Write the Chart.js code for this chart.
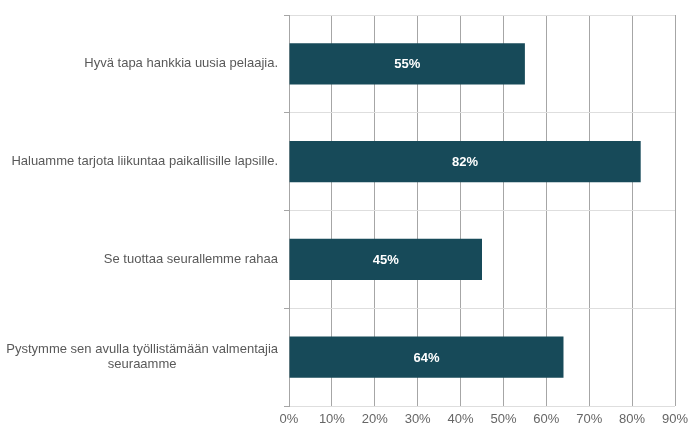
<!DOCTYPE html>
<html lang="fi">
<head>
  <meta charset="UTF-8" />
  <title>Syyt</title>
  <script src="https://cdn.jsdelivr.net/npm/chart.js"></script>
  <style>
    body { margin: 0; background: #fff; }
    #wrap { width: 688px; height: 425px; }
  </style>
</head>
<body>
  <div id="wrap"><canvas id="reasonsChart" width="688" height="425"></canvas></div>

  <script>
    const reasons = [
      'Hyvä tapa hankkia uusia pelaajia.',
      'Haluamme tarjota liikuntaa paikallisille lapsille.',
      'Se tuottaa seurallemme rahaa',
      ['Pystymme sen avulla työllistämään valmentajia', 'seuraamme']
    ];
    const shares = [55, 82, 45, 64];
    const axisMax = 90;

    const FONT = '"Liberation Sans", Arial, sans-serif';

    // category labels: single lines right-aligned, wrapped ones centred on their widest line
    const categoryLabels = {
      id: 'categoryLabels',
      afterDraw(chart) {
        const { ctx, scales: { y } } = chart;
        const right = chart.chartArea.left - 11;
        ctx.save();
        ctx.font = '13px ' + FONT;
        ctx.fillStyle = '#595959';
        ctx.textBaseline = 'middle';
        reasons.forEach((label, i) => {
          const lines = Array.isArray(label) ? label : [label];
          const widest = Math.max(...lines.map(l => ctx.measureText(l).width));
          const cy = y.getPixelForValue(i);
          const lh = 15;
          lines.forEach((line, j) => {
            const ly = cy + (j - (lines.length - 1) / 2) * lh;
            if (lines.length > 1) {
              ctx.textAlign = 'center';
              ctx.fillText(line, right - widest / 2, ly);
            } else {
              ctx.textAlign = 'right';
              ctx.fillText(line, right, ly);
            }
          });
        });
        ctx.restore();
      }
    };

    // percentage printed in the middle of each bar
    const barValues = {
      id: 'barValues',
      afterDatasetsDraw(chart) {
        const { ctx } = chart;
        const meta = chart.getDatasetMeta(0);
        ctx.save();
        ctx.font = 'bold 13px ' + FONT;
        ctx.fillStyle = '#ffffff';
        ctx.textAlign = 'center';
        ctx.textBaseline = 'middle';
        meta.data.forEach((bar, i) => {
          const cx = (bar.x + bar.base) / 2;
          ctx.fillText(shares[i] + '%', cx, bar.y + 1);
        });
        ctx.restore();
      }
    };

    new Chart(document.getElementById('reasonsChart'), {
      type: 'bar',
      data: {
        labels: reasons,
        datasets: [{
          data: shares,
          backgroundColor: '#174a59',
          borderWidth: 0,
          barPercentage: 0.42,
          categoryPercentage: 1
        }]
      },
      options: {
        indexAxis: 'y',
        responsive: false,
        animation: false,
        layout: { padding: { top: 15, right: 13, left: 0, bottom: 0 } },
        plugins: {
          legend: { display: false },
          tooltip: { enabled: false }
        },
        scales: {
          x: {
            min: 0,
            max: axisMax,
            ticks: {
              stepSize: 10,
              callback: v => v + '%',
              color: '#666',
              font: { family: FONT, size: 13 },
              padding: 6
            },
            grid: { color: '#a6a6a6', drawTicks: false },
            border: { display: false },
            afterFit(scale) {
              scale.height = 19;
              scale.paddingLeft = 0;
              scale.paddingRight = 0;
            }
          },
          y: {
            ticks: { display: false },
            grid: {
              color: '#dedede',
              tickColor: '#a6a6a6',
              tickLength: 5,
              offset: true
            },
            border: { color: '#a6a6a6' },
            afterFit(scale) { scale.width = 289; }
          }
        }
      },
      plugins: [categoryLabels, barValues]
    });
  </script>
</body>
</html>
